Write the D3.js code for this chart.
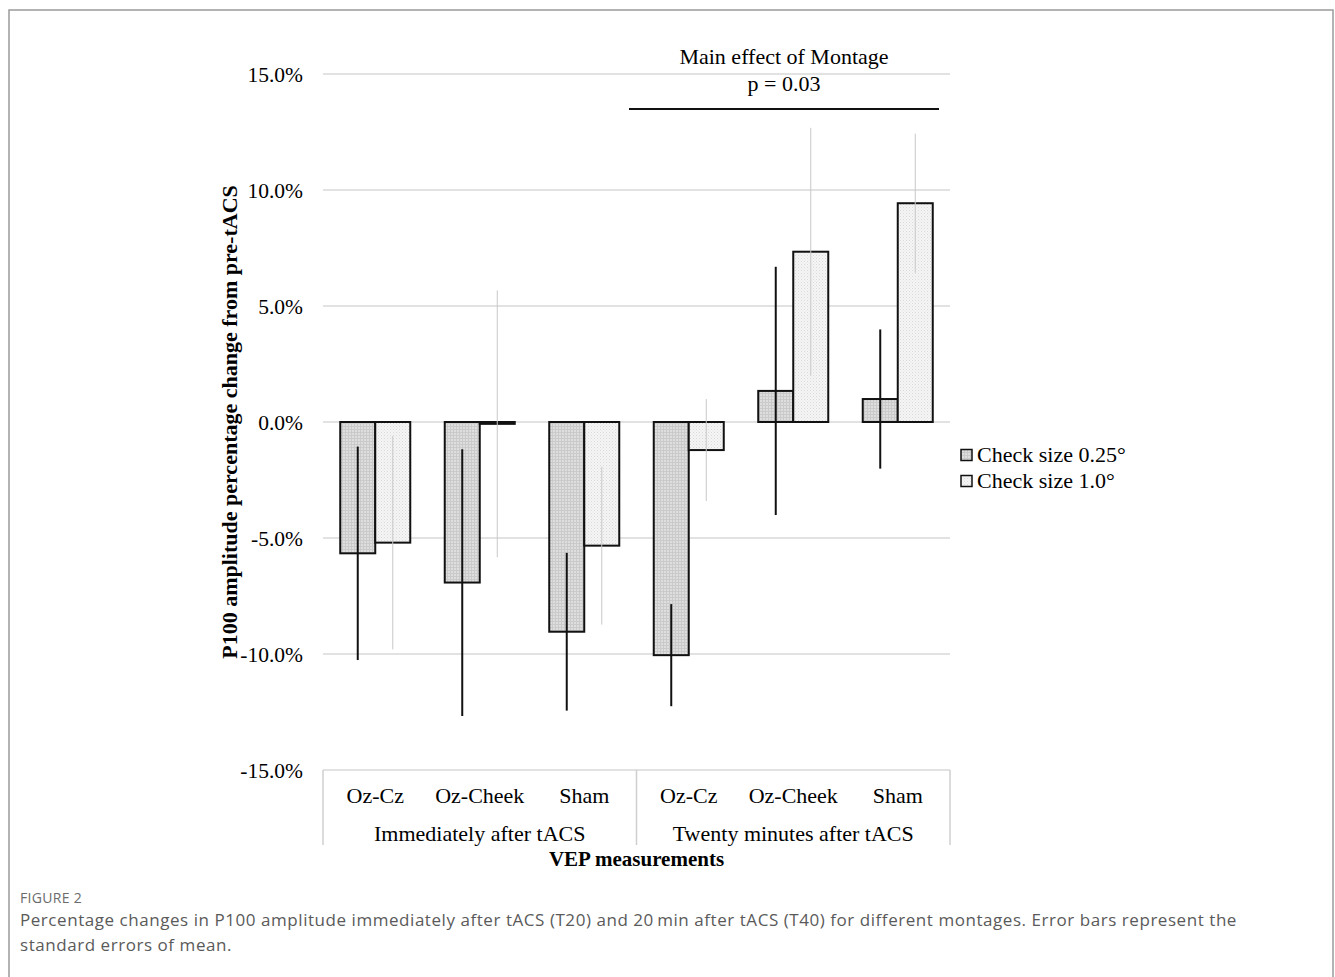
<!DOCTYPE html>
<html>
<head>
<meta charset="utf-8">
<script src="https://cdn.jsdelivr.net/npm/d3@7"></script>
<style>
  body { margin: 0; background: #fff; }
  svg { display: block; }
</style>
</head>
<body>
<div id="chart"></div>
<script>
'use strict';

// chart values
const timepoints = ['Immediately after tACS', 'Twenty minutes after tACS'];
const montages = ['Oz-Cz', 'Oz-Cheek', 'Sham'];
const seriesNames = ['Check size 0.25°', 'Check size 1.0°'];
const small = [-5.66, -6.92, -9.04, -10.05, 1.34, 0.99];
const smallErr = [4.6, 5.75, 3.4, 2.2, 5.35, 3.0];
const large = [-5.2, -0.08, -5.33, -1.21, 7.34, 9.43];
const largeErr = [4.6, 5.75, 3.4, 2.2, 5.34, 3.0];
const yTicks = [15, 10, 5, 0, -5, -10, -15];
const sigText = ['Main effect of Montage', 'p = 0.03'];
const caption = [
    'Percentage changes in P100 amplitude immediately after tACS (T20) and 20\u2009min after tACS (T40) for different montages. Error bars represent the',
    'standard errors of mean.'
];

const W = 1335, H = 977;
const plotL = 323, plotR = 950, plotT = 74, plotB = 770;
const serif = '"Liberation Serif", "Times New Roman", serif';
const sans = '"Open Sans", sans-serif';
const fs = 22;

const svg = d3.select('#chart').append('svg')
    .attr('width', W)
    .attr('height', H);

// textures for the two bar fills
const defs = svg.append('defs');
var p1 = defs.append('pattern').attr('id', 'pat1')
    .attr('width', 3).attr('height', 3).attr('patternUnits', 'userSpaceOnUse');
p1.append('rect').attr('width', 3).attr('height', 3).attr('fill', '#dedede');
p1.append('rect').attr('width', 3).attr('height', 1).attr('fill', '#cacaca');
p1.append('rect').attr('width', 1).attr('height', 3).attr('fill', '#cacaca');
var p2 = defs.append('pattern').attr('id', 'pat2')
    .attr('width', 3).attr('height', 3).attr('patternUnits', 'userSpaceOnUse');
p2.append('rect').attr('width', 3).attr('height', 3).attr('fill', '#f5f5f5');
p2.append('rect').attr('width', 1).attr('height', 1).attr('fill', '#d9d9d9');
p2.append('rect').attr('x', 1.5).attr('y', 1.5).attr('width', 1).attr('height', 1).attr('fill', '#e2e2e2');
const fills = ['url(#pat1)', 'url(#pat2)'];

// outer frame of the figure panel
svg.append('path')
    .attr('d', 'M9,' + H + 'V10H1333V' + H)
    .attr('fill', 'none')
    .attr('stroke', '#9a9a9a')
    .attr('stroke-width', 1.5);

const y = d3.scaleLinear().domain([-15, 15]).range([plotB, plotT]);

const cats = d3.range(timepoints.length * montages.length);
const x = d3.scaleBand().domain(cats).range([plotL, plotR])
    .paddingInner(0.33).paddingOuter(0.165);
const xs = d3.scaleBand().domain([0, 1]).range([0, x.bandwidth()]);

// gridlines
svg.append('g').selectAll('line').data(yTicks).join('line')
    .attr('x1', plotL).attr('x2', plotR)
    .attr('y1', d => y(d)).attr('y2', d => y(d))
    .attr('stroke', '#d9d9d9')
    .attr('stroke-width', 1.5);

// y axis tick labels
const yAxis = d3.axisLeft(y).tickValues(yTicks)
    .tickFormat(d => d.toFixed(1) + '%').tickSize(0).tickPadding(0);
const ga = svg.append('g').attr('transform', 'translate(303,0)').call(yAxis);
ga.select('.domain').remove();
ga.selectAll('text')
    .attr('font-family', serif)
    .attr('font-size', 21.5)
    .attr('fill', '#000')
    .attr('dy', '0.33em');

svg.append('text')
    .attr('transform', 'translate(237,' + y(0) + ') rotate(-90)')
    .attr('text-anchor', 'middle')
    .attr('font-family', serif)
    .attr('font-size', fs)
    .attr('font-weight', 'bold')
    .text('P100 amplitude percentage change from pre-tACS');

// bars and error bars
const series = [
    { vals: small, errs: smallErr },
    { vals: large, errs: largeErr }
];
series.forEach(function(s, k) {
    var g = svg.append('g');
    g.selectAll('rect').data(cats).join('rect')
        .attr('x', i => x(i) + xs(k))
        .attr('width', xs.bandwidth())
        .attr('y', i => y(Math.max(0, s.vals[i])))
        .attr('height', i => Math.abs(y(s.vals[i]) - y(0)))
        .attr('fill', fills[k])
        .attr('stroke', '#111')
        .attr('stroke-width', 2);
});
series.forEach(function(s, k) {
    svg.append('g').selectAll('line').data(cats).join('line')
        .attr('x1', i => x(i) + xs(k) + xs.bandwidth() / 2)
        .attr('x2', i => x(i) + xs(k) + xs.bandwidth() / 2)
        .attr('y1', i => y(s.vals[i] + s.errs[i]))
        .attr('y2', i => y(s.vals[i] - s.errs[i]))
        .attr('stroke', k === 0 ? '#111' : '#c8c8c8')
        .attr('stroke-width', k === 0 ? 2 : 1);
});

// category axis: montage labels, time point labels and separators
const nm = montages.length;
const sepX = d3.range(timepoints.length + 1).map(function(t) {
    if (t === 0) return plotL;
    if (t === timepoints.length) return plotR;
    return (x(t * nm - 1) + x.bandwidth() + x(t * nm)) / 2;
});
svg.append('g').selectAll('line').data(sepX).join('line')
    .attr('x1', d => d).attr('x2', d => d)
    .attr('y1', plotB).attr('y2', 845)
    .attr('stroke', '#cfcfcf')
    .attr('stroke-width', 1.5);

svg.append('g').selectAll('text').data(cats).join('text')
    .attr('x', i => x(i) + x.bandwidth() / 2)
    .attr('y', 803)
    .attr('text-anchor', 'middle')
    .attr('font-family', serif)
    .attr('font-size', fs)
    .text(i => montages[i % nm]);

svg.append('g').selectAll('text').data(timepoints).join('text')
    .attr('x', (d, t) => (sepX[t] + sepX[t + 1]) / 2)
    .attr('y', 841)
    .attr('text-anchor', 'middle')
    .attr('font-family', serif)
    .attr('font-size', fs)
    .text(d => d);

svg.append('text')
    .attr('x', (plotL + plotR) / 2)
    .attr('y', 866)
    .attr('text-anchor', 'middle')
    .attr('font-family', serif)
    .attr('font-size', 21)
    .attr('font-weight', 'bold')
    .text('VEP measurements');

// significance annotation over the second time point
svg.append('line')
    .attr('x1', 629).attr('x2', 939)
    .attr('y1', 109).attr('y2', 109)
    .attr('stroke', '#111')
    .attr('stroke-width', 2);
svg.append('g').selectAll('text').data(sigText).join('text')
    .attr('x', 784)
    .attr('y', (d, i) => 64 + i * 27)
    .attr('text-anchor', 'middle')
    .attr('font-family', serif)
    .attr('font-size', fs)
    .text(d => d);

// legend
const lg = svg.append('g').selectAll('g').data(seriesNames).join('g')
    .attr('transform', (d, i) => 'translate(961,' + (455 + i * 26) + ')');
lg.append('rect')
    .attr('x', 0).attr('y', -5.5)
    .attr('width', 11).attr('height', 11)
    .attr('fill', (d, i) => fills[i])
    .attr('stroke', '#111')
    .attr('stroke-width', 1.5);
lg.append('text')
    .attr('x', 16)
    .attr('dy', '0.33em')
    .attr('font-family', serif)
    .attr('font-size', fs)
    .text(d => d);

// figure caption
svg.append('text')
    .attr('x', 20).attr('y', 903)
    .attr('font-family', sans)
    .attr('font-size', 14)
    .attr('letter-spacing', 0.3)
    .attr('fill', '#6b6b6b')
    .text('FIGURE 2');
svg.append('g').selectAll('text').data(caption).join('text')
    .attr('x', 20)
    .attr('y', (d, i) => 926 + i * 25)
    .attr('font-family', sans)
    .attr('font-size', 17)
    .attr('letter-spacing', 0.55)
    .attr('fill', '#5a5a5a')
    .text(d => d);
</script>
</body>
</html>
